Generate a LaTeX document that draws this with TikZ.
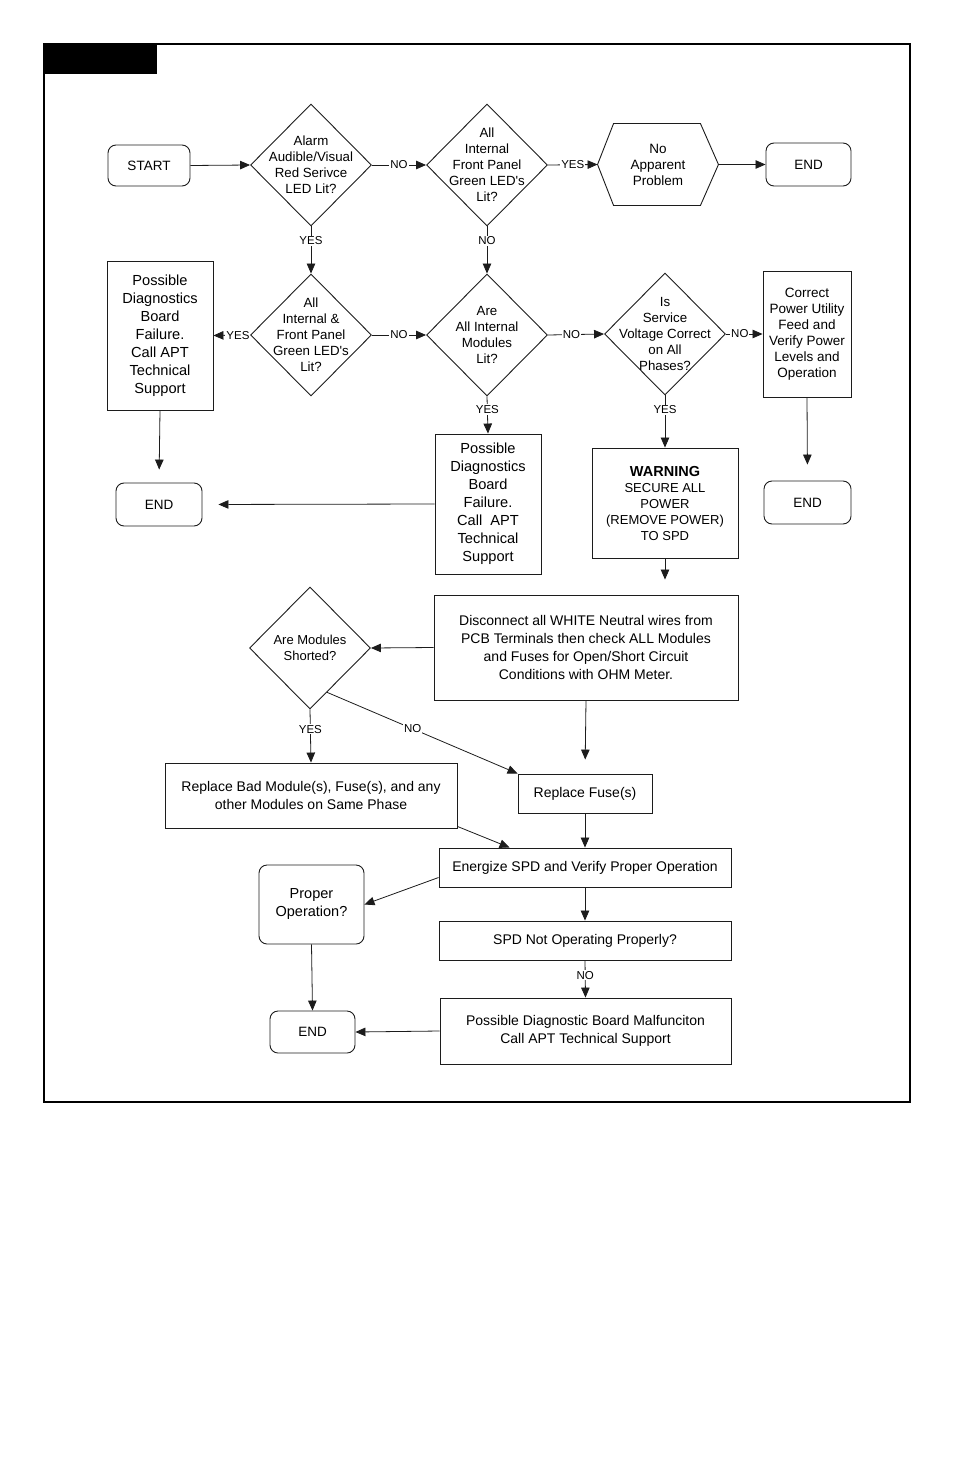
\documentclass[tikz,border=0pt]{standalone}
\usepackage{fontspec}
\setmainfont{Liberation Sans}
\usetikzlibrary{arrows.meta,shapes.geometric}
\definecolor{flowink}{HTML}{1c1c1c}

\begin{document}
\begin{tikzpicture}[x=1pt,y=-1pt,>={Triangle[length=10pt,width=8.5pt]},
  box/.style={draw=flowink,line width=0.9pt,inner sep=0pt,align=center,font=\fontsize{13.5}{16}\selectfont},
  term/.style={box,rounded corners=8pt},
  dia/.style={diamond,draw=flowink,line width=0.9pt,minimum width=121pt,minimum height=122pt,inner sep=0pt},
  dtxt/.style={align=center,inner sep=0pt,font=\fontsize{13.3}{16}\selectfont},
  big/.style={font=\fontsize{14.6}{18}\selectfont},
  lab/.style={fill=white,inner sep=1pt,font=\fontsize{11.5}{12}\selectfont},
  flow/.style={->,draw=flowink,line width=0.8pt}]
  \useasboundingbox (0,0) rectangle (954,1474);
  % page frame and tab
  \draw[line width=2.2pt] (44,44) rectangle (910,1102);
  \fill (44,44) rectangle (157,74);
  % first row
  \node[term,minimum width=82pt,minimum height=41pt] (start) at (149,165.5) {START};
  \node[dia,label={[dtxt]center:{Alarm\\Audible/Visual\\Red Serivce\\LED Lit?}}] (alarm) at (311,165) {};
  \node[dia,label={[dtxt]center:{All\\Internal\\Front Panel\\Green LED\textquotesingle s\\Lit?}}] (frontlit) at (487,165) {};
  \node[box,draw=none,minimum width=120pt,minimum height=81pt] (noprob) at (658,164.5) {No\\Apparent\\Problem};
  \draw[draw=flowink,line width=0.9pt] (noprob.west) -- ([xshift=16pt]noprob.north west) -- ([xshift=-18pt]noprob.north east)
    -- (noprob.east) -- ([xshift=-18pt]noprob.south east) -- ([xshift=16pt]noprob.south west) -- cycle;
  \node[term,minimum width=85pt,minimum height=43pt] (endA) at (808.5,164.5) {END};
  % second row
  \node[box,big,minimum width=106pt,minimum height=149pt] (diagA) at (160,335.5) {Possible\\Diagnostics\\Board\\Failure.\\Call APT\\Technical\\Support};
  \node[dia,label={[dtxt]center:{All\\Internal \&\\Front Panel\\Green LED\textquotesingle s\\Lit?}}] (intlit) at (311,335) {};
  \node[dia,label={[dtxt]center:{Are\\All Internal\\Modules\\Lit?}}] (modlit) at (487,335) {};
  \node[dia,label={[dtxt]center:{Is\\Service\\Voltage Correct\\on All\\Phases?}}] (voltok) at (665,334) {};
  \node[box,minimum width=88pt,minimum height=126pt] (fixpower) at (807,334) {Correct\\Power Utility\\Feed and\\Verify Power\\Levels and\\Operation};
  % third row
  \node[term,minimum width=86pt,minimum height=43pt] (endB) at (159,504.5) {END};
  \node[box,big,minimum width=106pt,minimum height=140pt] (diagB) at (488,504) {Possible\\Diagnostics\\Board\\Failure.\\Call\ \ APT\\Technical\\Support};
  \node[box,font=\fontsize{13}{16}\selectfont,minimum width=146pt,minimum height=110pt] (warn) at (665,503) {{\fontsize{14.5}{16}\selectfont\bfseries WARNING}\\SECURE ALL\\POWER\\(REMOVE POWER)\\TO SPD};
  \node[term,minimum width=87pt,minimum height=43pt] (endC) at (807.5,502.5) {END};
  % checks
  \node[box,font=\fontsize{14}{18}\selectfont,minimum width=304pt,minimum height=105pt] (disc) at (586,647.5) {Disconnect all WHITE Neutral wires from\\PCB Terminals then check ALL Modules\\and Fuses for Open/Short Circuit\\Conditions with OHM Meter.};
  \node[dia,label={[dtxt,font=\fontsize{13}{16}\selectfont]center:{Are Modules\\Shorted?}}] (shorted) at (310,648) {};
  \node[box,font=\fontsize{14}{18}\selectfont,minimum width=292pt,minimum height=65pt] (replbad) at (311,795.5) {Replace Bad Module(s), Fuse(s), and any\\other Modules on Same Phase};
  \node[box,font=\fontsize{14}{18}\selectfont,minimum width=134pt,minimum height=39pt] (replfuse) at (585,793.5) {Replace Fuse(s)};
  \node[box,font=\fontsize{14}{18}\selectfont,minimum width=292pt,minimum height=39pt] (energize) at (585,867.5) {Energize SPD and Verify Proper Operation};
  \node[term,font=\fontsize{14.5}{18}\selectfont,minimum width=105pt,minimum height=79pt] (properop) at (311.5,904.5) {Proper\\Operation?};
  \node[box,font=\fontsize{14}{18}\selectfont,minimum width=292pt,minimum height=39pt] (notok) at (585,940.5) {SPD Not Operating Properly?};
  \node[box,font=\fontsize{14}{18}\selectfont,minimum width=291pt,minimum height=66pt] (malf) at (585.5,1031) {Possible Diagnostic Board Malfunciton\\Call APT Technical Support};
  \node[term,minimum width=85pt,minimum height=42pt] (endD) at (312.5,1032) {END};
  % connectors
  \draw[flow] (start.east) -- (alarm.west);
  \draw[flow] (alarm.east) -- node[lab] {NO} (frontlit.west);
  \draw[flow] (frontlit.east) -- node[lab] {YES} (noprob.west);
  \draw[flow] (noprob.east) -- (endA.west);
  \draw[flow] (alarm.south) -- node[lab,pos=0.3] {YES} (intlit.north);
  \draw[flow] (frontlit.south) -- node[lab,pos=0.3] {NO} (modlit.north);
  \draw[flow] (intlit.west) -- node[lab,pos=0.33] {YES} (diagA.east);
  \draw[flow] (intlit.east) -- node[lab] {NO} (modlit.west);
  \draw[flow] (modlit.east) -- node[lab,pos=0.42] {NO} (voltok.west);
  \draw[flow] (voltok.east) -- node[lab,pos=0.38] {NO} (fixpower.west);
  \draw[flow] (modlit.south) -- node[lab,pos=0.35] {YES} (diagB.north);
  \draw[flow] (voltok.south) -- node[lab,pos=0.28] {YES} (warn.north);
  \draw[flow,shorten >=13pt] (diagA.south) -- (endB.north);
  \draw[flow,shorten >=16pt] (diagB.west) -- (endB.east);
  \draw[flow,shorten >=16pt] (fixpower.south) -- (endC.north);
  \draw[flow,shorten >=15pt] (warn.south) -- (warn.south |- disc.north);
  \draw[flow] (disc.west) -- (shorted.east);
  \draw[flow,shorten >=14pt] (disc.south) -- (replfuse.north);
  \draw[flow] (shorted.south) -- node[lab,pos=0.37] {YES} (replbad.north);
  \draw[flow] (shorted.-69) -- node[lab,pos=0.45] {NO} (replfuse.north west);
  \draw[flow] ([yshift=2pt]replbad.south east) -- ([xshift=71pt]energize.north west);
  \draw[flow] (replfuse.south) -- (energize.north);
  \draw[flow] ([yshift=-10pt]energize.west) -- (properop.east);
  \draw[flow] (energize.south) -- (notok.north);
  \draw[flow] (notok.south) -- node[lab,pos=0.4] {NO} (malf.north);
  \draw[flow] (properop.south) -- (endD.north);
  \draw[flow] (malf.west) -- (endD.east);
\end{tikzpicture}
\end{document}
